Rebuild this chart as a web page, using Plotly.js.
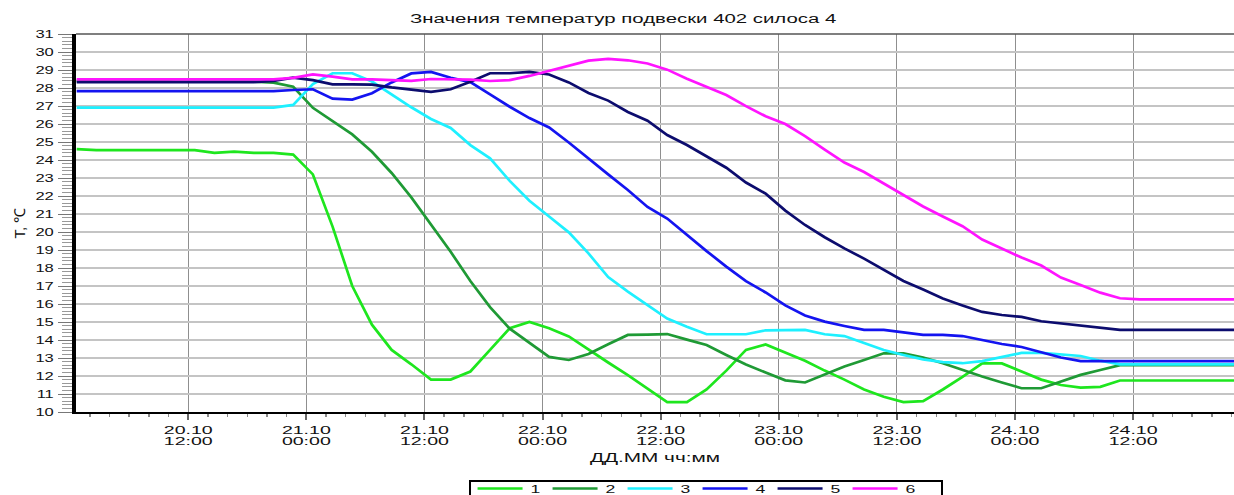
<!DOCTYPE html>
<html>
<head>
<meta charset="utf-8">
<script src="https://cdn.plot.ly/plotly-3.0.1.min.js"></script>
<style>
html,body{margin:0;padding:0;background:#fff;}
#chart{width:1234px;height:495px;}
</style>
</head>
<body>
<div id="chart"></div>
<script>
// Time stamps of measurements (every 2 hours)
const times = [
"2023-10-20 00:40","2023-10-20 02:40","2023-10-20 04:40","2023-10-20 06:40","2023-10-20 08:40","2023-10-20 10:40",
"2023-10-20 12:40","2023-10-20 14:40","2023-10-20 16:40","2023-10-20 18:40","2023-10-20 20:40","2023-10-20 22:40",
"2023-10-21 00:40","2023-10-21 02:40","2023-10-21 04:40","2023-10-21 06:40","2023-10-21 08:40","2023-10-21 10:40",
"2023-10-21 12:40","2023-10-21 14:40","2023-10-21 16:40","2023-10-21 18:40","2023-10-21 20:40","2023-10-21 22:40",
"2023-10-22 00:40","2023-10-22 02:40","2023-10-22 04:40","2023-10-22 06:40","2023-10-22 08:40","2023-10-22 10:40",
"2023-10-22 12:40","2023-10-22 14:40","2023-10-22 16:40","2023-10-22 18:40","2023-10-22 20:40","2023-10-22 22:40",
"2023-10-23 00:40","2023-10-23 02:40","2023-10-23 04:40","2023-10-23 06:40","2023-10-23 08:40","2023-10-23 10:40",
"2023-10-23 12:40","2023-10-23 14:40","2023-10-23 16:40","2023-10-23 18:40","2023-10-23 20:40","2023-10-23 22:40",
"2023-10-24 00:40","2023-10-24 02:40","2023-10-24 04:40","2023-10-24 06:40","2023-10-24 08:40","2023-10-24 10:40",
"2023-10-24 12:40","2023-10-24 14:40","2023-10-24 16:40","2023-10-24 18:40","2023-10-24 20:40","2023-10-24 22:40"
];

const seriesNames = ["1","2","3","4","5","6"];
const seriesColors = ["#1ee61e","#1f9a35","#1ef0ff","#1414f0","#0c0c6e","#ff14ff"];

const t1 = [24.6,24.55,24.55,24.55,24.55,24.55,24.55,24.4,24.47,24.4,24.4,24.3,
            23.2,20.3,17.0,14.85,13.45,12.65,11.8,11.8,12.25,13.45,14.65,15.0,
            14.65,14.2,13.45,12.75,12.05,11.3,10.55,10.55,11.25,12.3,13.45,13.75,
            13.3,12.85,12.3,11.8,11.25,10.85,10.55,10.6,11.25,11.95,12.7,12.7,
            12.25,11.8,11.5,11.35,11.4,11.75,11.75,11.75,11.75,11.75,11.75,11.75];
const t2 = [28.4,28.4,28.45,28.45,28.4,28.35,28.35,28.35,28.35,28.35,28.3,28.07,
            26.9,26.14,25.42,24.46,23.28,21.92,20.44,18.9,17.28,15.83,14.63,13.83,
            13.06,12.89,13.22,13.76,14.28,14.3,14.33,14.02,13.72,13.17,12.64,12.19,
            11.76,11.64,12.07,12.53,12.89,13.26,13.26,13.03,12.71,12.33,11.97,11.64,
            11.32,11.32,11.69,12.06,12.33,12.6,12.6,12.6,12.6,12.6,12.6,12.6];
const t3 = [26.91,26.91,26.91,26.91,26.91,26.91,26.91,26.91,26.91,26.91,26.91,27.06,
            28.22,28.82,28.82,28.36,27.66,26.93,26.28,25.78,24.83,24.09,22.84,21.74,
            20.86,19.98,18.81,17.5,16.69,15.96,15.19,14.74,14.32,14.32,14.32,14.54,
            14.56,14.56,14.32,14.22,13.83,13.44,13.17,12.92,12.77,12.71,12.83,13.06,
            13.28,13.29,13.22,13.11,12.85,12.65,12.65,12.65,12.65,12.65,12.65,12.65];
const t4 = [27.83,27.83,27.83,27.83,27.83,27.83,27.83,27.83,27.83,27.83,27.83,27.89,
            27.93,27.41,27.36,27.71,28.31,28.81,28.89,28.57,28.33,27.64,26.96,26.33,
            25.81,24.97,24.06,23.2,22.33,21.39,20.75,19.83,18.94,18.08,17.27,16.64,
            15.92,15.36,15.02,14.78,14.56,14.56,14.43,14.28,14.28,14.22,14.0,13.78,
            13.61,13.31,13.03,12.83,12.83,12.83,12.83,12.83,12.83,12.83,12.83,12.83];
const t5 = [28.33,28.33,28.33,28.33,28.33,28.33,28.33,28.33,28.33,28.33,28.4,28.58,
            28.44,28.2,28.2,28.19,28.03,27.89,27.79,27.93,28.35,28.82,28.82,28.9,
            28.75,28.31,27.72,27.3,26.67,26.18,25.39,24.83,24.19,23.57,22.75,22.13,
            21.19,20.39,19.71,19.09,18.52,17.89,17.28,16.8,16.3,15.92,15.56,15.39,
            15.28,15.04,14.92,14.81,14.68,14.56,14.56,14.56,14.56,14.56,14.56,14.56];
const t6 = [28.48,28.48,28.48,28.48,28.48,28.48,28.48,28.48,28.48,28.48,28.48,28.56,
            28.76,28.63,28.48,28.48,28.46,28.4,28.5,28.5,28.46,28.39,28.44,28.67,
            28.94,29.21,29.52,29.62,29.54,29.36,29.02,28.52,28.06,27.61,26.99,26.43,
            26.0,25.33,24.58,23.86,23.33,22.69,22.03,21.42,20.86,20.32,19.58,19.06,
            18.58,18.14,17.47,17.06,16.63,16.32,16.26,16.26,16.26,16.26,16.26,16.26];

const xTickVals = ["2023-10-20 12:00","2023-10-21 00:00","2023-10-21 12:00","2023-10-22 00:00",
                   "2023-10-22 12:00","2023-10-23 00:00","2023-10-23 12:00","2023-10-24 00:00","2023-10-24 12:00"];
const xTickText = ["20.10<br>12:00","21.10<br>00:00","21.10<br>12:00","22.10<br>00:00",
                   "22.10<br>12:00","23.10<br>00:00","23.10<br>12:00","24.10<br>00:00","24.10<br>12:00"];
const yTickVals = [10,11,12,13,14,15,16,17,18,19,20,21,22,23,24,25,26,27,28,29,30,31];

const chartTitle = "Значения температур подвески 402 силоса 4";
const xTitle = "ДД.ММ чч:мм";
const yTitle = "T, ℃";

const allSeries = [t1,t2,t3,t4,t5,t6];
const traces = allSeries.map((vals, k) => ({
  type: "scatter",
  mode: "lines",
  x: times,
  y: vals,
  name: seriesNames[k],
  line: {color: seriesColors[k], width: 2.7}
}));

const FONT = "Liberation Sans, Arial, sans-serif";

const layout = {
  width: 1234,
  height: 495,
  margin: {l: 76, r: 0, t: 34, b: 83, autoexpand: false},
  paper_bgcolor: "#ffffff",
  plot_bgcolor: "#ffffff",
  font: {family: FONT, size: 11, color: "#111"},
  showlegend: true,
  title: {
    text: chartTitle,
    font: {family: FONT, size: 12.5, color: "#111"},
    xref: "container", x: 0.505, xanchor: "center",
    yref: "container", y: 0.963, yanchor: "middle"
  },
  xaxis: {
    type: "date",
    range: ["2023-10-20 00:36", "2023-10-24 22:15"],
    tickmode: "array",
    tickvals: xTickVals,
    ticktext: xTickText,
    tickfont: {family: FONT, size: 11.5, color: "#111"},
    ticks: "outside", ticklen: 6, tickwidth: 2, tickcolor: "#666",
    showgrid: true, gridcolor: "#8f8f8f", gridwidth: 1,
    showline: true, linecolor: "#000", linewidth: 2,
    zeroline: false, automargin: false,
    minor: {tickmode: "linear", tick0: "2023-10-20 00:00", dtick: 7200000,
            ticks: "outside", ticklen: 3, tickwidth: 1.5, tickcolor: "#888", showgrid: false},
    title: {text: xTitle, font: {family: FONT, size: 12, color: "#111"}, standoff: 3}
  },
  yaxis: {
    range: [10, 31],
    tickmode: "array",
    tickvals: yTickVals,
    tickfont: {family: FONT, size: 11, color: "#111"},
    ticks: "outside", ticklen: 14, tickwidth: 1, tickcolor: "#777",
    ticklabelstandoff: 2,
    showgrid: true, gridcolor: "#c4c4c4", gridwidth: 1.5,
    showline: true, linecolor: "#000", linewidth: 4,
    zeroline: false, automargin: false,
    minor: {tickmode: "linear", tick0: 10, dtick: 0.2, ticks: "outside", ticklen: 10,
            tickwidth: 1, tickcolor: "#999", showgrid: false},
    title: {text: yTitle, font: {family: FONT, size: 15, color: "#111"}, standoff: 13}
  },
  legend: {
    orientation: "h",
    x: 0.339, xanchor: "left",
    y: -0.1587, yanchor: "top",
    bordercolor: "#000", borderwidth: 2,
    bgcolor: "#fff",
    font: {family: FONT, size: 11, color: "#111"},
    entrywidth: 30, entrywidthmode: "pixels",
    traceorder: "normal"
  },
  shapes: [
    {type: "line", xref: "paper", yref: "paper", x0: 0, x1: 1, y0: 1, y1: 1,
     line: {color: "#555", width: 1.5}}
  ]
};

function stretch(sel, S) {
  document.querySelectorAll(sel).forEach(t => {
    const lines = t.querySelectorAll("tspan.line");
    const targets = lines.length ? Array.from(lines) : [t];
    targets.forEach(el => {
      const w = el.getComputedTextLength();
      if (w > 0) {
        el.setAttribute("textLength", (w * S).toFixed(1));
        el.setAttribute("lengthAdjust", "spacingAndGlyphs");
      }
    });
  });
}

Plotly.newPlot("chart", traces, layout, {staticPlot: true, displayModeBar: false}).then(() => {
  // tighter two-line tick labels
  document.querySelectorAll(".xtick text tspan.line").forEach(ts => {
    const dy = ts.getAttribute("dy");
    if (dy && dy !== "0em") ts.setAttribute("dy", "1.0em");
  });
  // longer legend line samples
  document.querySelectorAll(".legend .legendlines path").forEach(p => {
    p.setAttribute("d", "M7,0h45");
  });
  document.querySelectorAll(".legend .legendtext").forEach(t => {
    t.setAttribute("x", "60");
  });
  // legend frame: items sit close to its top edge, a little wider on the right
  const bg = document.querySelector(".legend rect.bg");
  if (bg) {
    const shift = 8;
    const y = parseFloat(bg.getAttribute("y") || "0");
    const h = parseFloat(bg.getAttribute("height") || "0");
    const w = parseFloat(bg.getAttribute("width") || "0");
    bg.setAttribute("y", y + shift);
    bg.setAttribute("height", Math.max(0, h - shift));
    bg.setAttribute("width", w + 20);
  }
  stretch(".gtitle", 1.63);
  stretch(".xtick text", 1.7);
  stretch(".ytick text", 1.5);
  stretch(".g-xtitle text", 1.73);
  stretch(".legendtext", 1.6);
});
</script>
</body>
</html>
